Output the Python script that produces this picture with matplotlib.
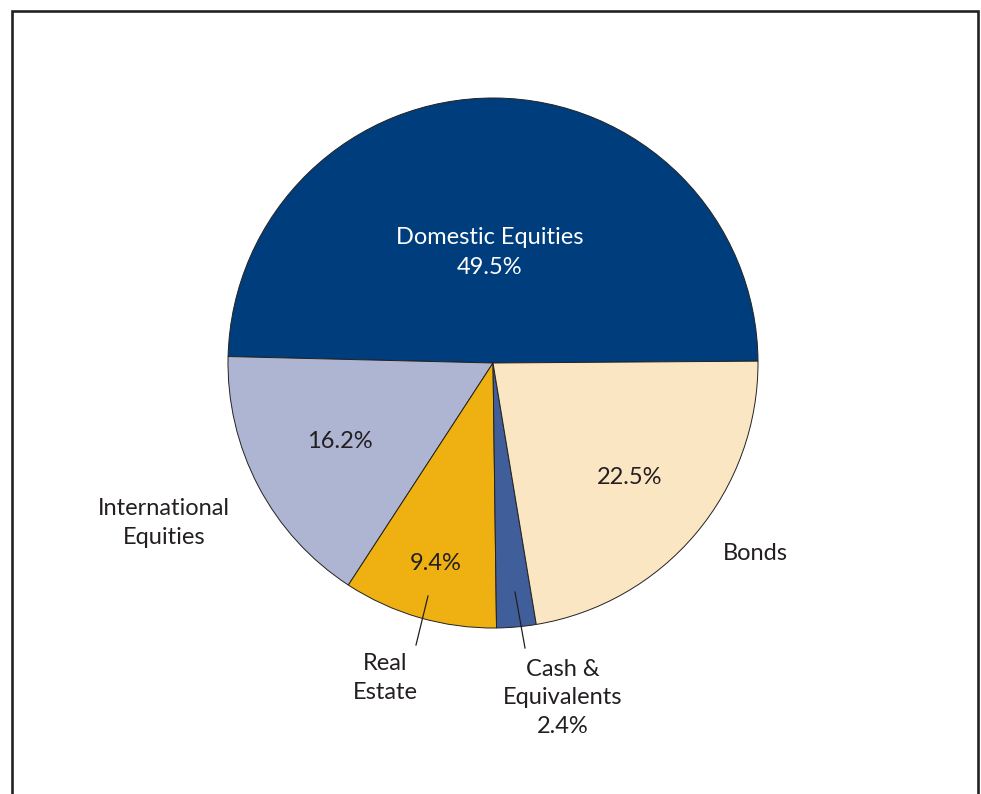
import matplotlib
matplotlib.use("Agg")
import matplotlib.pyplot as plt

plt.rcParams['font.family'] = ['Lato', 'DejaVu Sans']

# portfolio allocation
categories = ["Domestic Equities", "International Equities", "Real Estate",
              "Cash & Equivalents", "Bonds"]
shares = [49.5, 16.2, 9.4, 2.4, 22.5]
colors = ["#003D7C", "#ADB5D3", "#EEB111", "#3F5E9A", "#FAE6C3"]

W, H = 981, 794
fig = plt.figure(figsize=(W / 100, H / 100), dpi=100)
ax = fig.add_axes([0, 0, 1, 1])
ax.set_xlim(0, W)
ax.set_ylim(0, H)
ax.axis("off")

cx, cy, r = 493, H - 363, 265
ax.pie(shares, colors=colors, startangle=0.4, counterclock=True,
       center=(cx, cy), radius=r,
       wedgeprops=dict(edgecolor="#222222", linewidth=0.7))
ax.set_xlim(0, W)
ax.set_ylim(0, H)
ax.set_aspect("equal")

txt = "#231F20"
fs = 17
ls = 1.45
pct = [f"{v}%" for v in shares]

# labels inside the slices
ax.text(490, H - 237, "Domestic Equities", color="white", fontsize=fs,
        ha="center", va="center")
ax.text(490, H - 268, pct[0], color="white", fontsize=fs, ha="center", va="center")
ax.text(340, H - 441, pct[1], color=txt, fontsize=fs, ha="center", va="center")
ax.text(436, H - 563, pct[2], color=txt, fontsize=fs, ha="center", va="center")
ax.text(630, H - 478, pct[4], color=txt, fontsize=fs, ha="center", va="center")

# labels outside the pie
ax.text(164, H - 523, "International\nEquities", color=txt, fontsize=fs,
        ha="center", va="center", linespacing=ls)
ax.text(755, H - 554, "Bonds", color=txt, fontsize=fs, ha="center", va="center")
ax.text(385, H - 678, "Real\nEstate", color=txt, fontsize=fs,
        ha="center", va="center", linespacing=ls)
ax.text(563, H - 698, "Cash &\nEquivalents\n" + pct[3], color=txt, fontsize=fs,
        ha="center", va="center", linespacing=ls)

# leader lines
ax.plot([428, 416], [H - 596, H - 645], color=txt, lw=0.9)
ax.plot([515, 525], [H - 592, H - 648], color=txt, lw=0.9)

# frame, open at the bottom
ax.plot([12, 12, 978, 978], [-10, H - 11, H - 11, -10], color="#222222",
        lw=1.9, solid_joinstyle="miter", clip_on=False)

fig.savefig("out.png", dpi=100)
